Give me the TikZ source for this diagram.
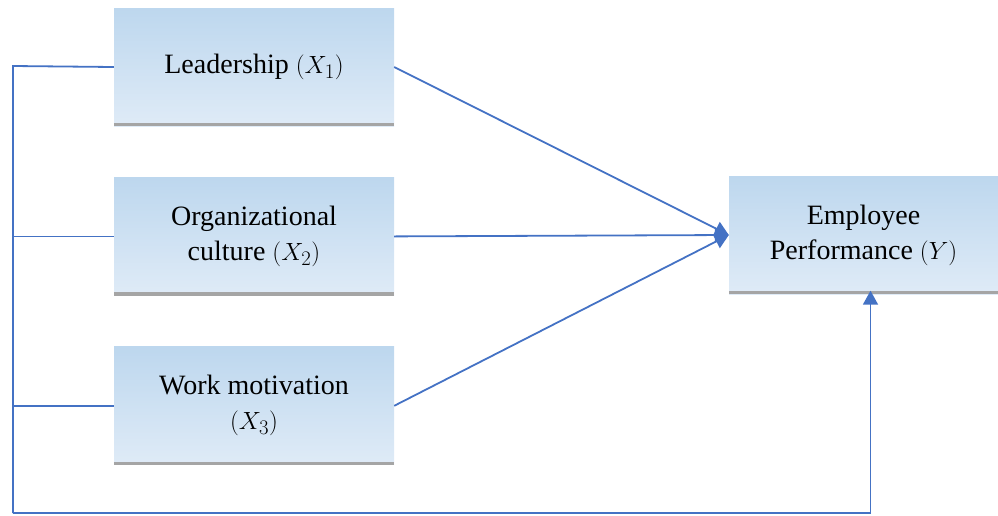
\documentclass[tikz,border=0pt]{standalone}
\usepackage{fontspec}
\setmainfont{Liberation Serif}
\usetikzlibrary{arrows.meta,positioning}
\definecolor{linkblue}{RGB}{68,114,196}
\definecolor{boxtop}{RGB}{189,215,238}
\definecolor{boxbottom}{RGB}{223,235,247}
\definecolor{shadowgray}{RGB}{165,165,165}

\begin{document}
\begin{tikzpicture}[x=1pt, y=-1pt, >={Triangle[length=14pt,width=15pt]}]
    % Define block styles
    \tikzset{block/.style={rectangle, top color=boxtop, bottom color=boxbottom,
        minimum width=280pt, minimum height=118pt, align=center,
        font=\fontsize{28}{35}\selectfont, inner sep=0pt}}
    \tikzset{target/.style={block, minimum width=269pt, minimum height=118pt}}
    \tikzset{link/.style={draw=linkblue, line width=1.8pt}}
    \tikzset{shadowbar/.style={draw=shadowgray, line width=3.5pt}}
    \useasboundingbox (0,0) rectangle (998,515);

    % Nodes
    \node [block] (lead) at (254,67) {Leadership $(X_1)$};
    \node [block, below=51pt of lead] (culture) {Organizational\\culture $(X_2)$};
    \node [block, below=51pt of culture] (motiv) {Work motivation\\$(X_3)$};
    \node [target] (perf) at (863.5,235) {Employee\\Performance $(Y)$};
    \foreach \n in {lead,culture,motiv,perf}
        \draw [shadowbar] ([yshift=1.75pt]\n.south west) -- ([yshift=1.75pt]\n.south east);
    \coordinate (bustop) at (13,66);
    \coordinate (busbottom) at (13,513);

    % Connections
    \draw [link,->] (lead.east) -- (perf.west);
    \draw [link,->] (culture.east) -- (perf.west);
    \draw [link,->] (motiv.east) -- (perf.west);
    \draw [link] (lead.west) -- (bustop) -- (busbottom);
    \draw [link] (culture.west) -- (culture.west -| bustop);
    \draw [link] (motiv.west) -- (motiv.west -| bustop);
    \draw [link,->] (busbottom) -| ([xshift=7pt,yshift=3.5pt]perf.south);
\end{tikzpicture}
\end{document}
